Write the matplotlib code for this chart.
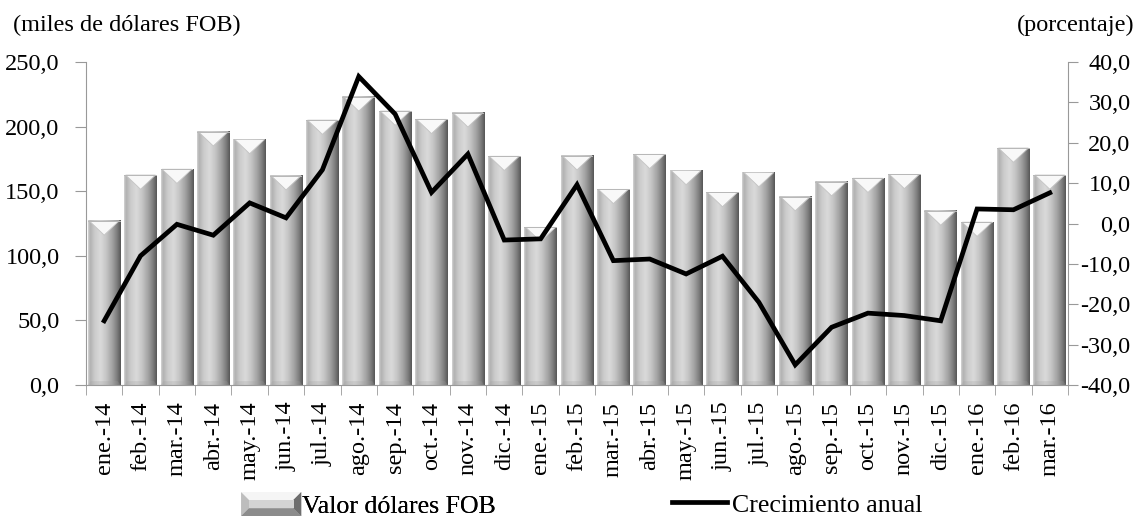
import numpy as np
import matplotlib
matplotlib.use("Agg")
import matplotlib.pyplot as plt
from matplotlib.colors import LinearSegmentedColormap
from matplotlib.patches import Polygon, Patch
from matplotlib.lines import Line2D
from matplotlib.legend_handler import HandlerBase

plt.rcParams['font.family'] = ['Liberation Serif', 'DejaVu Serif']

meses = ['ene.-14', 'feb.-14', 'mar.-14', 'abr.-14', 'may.-14', 'jun.-14', 'jul.-14',
         'ago.-14', 'sep.-14', 'oct.-14', 'nov.-14', 'dic.-14', 'ene.-15', 'feb.-15',
         'mar.-15', 'abr.-15', 'may.-15', 'jun.-15', 'jul.-15', 'ago.-15', 'sep.-15',
         'oct.-15', 'nov.-15', 'dic.-15', 'ene.-16', 'feb.-16', 'mar.-16']
valor_fob = [127, 162.5, 167, 196, 190, 162, 205, 223, 212, 205.6, 210.7, 177,
             122, 177.5, 151.4, 178.5, 166, 149, 164.4, 145.8, 157.4, 160, 163,
             134.7, 126, 183.4, 162.5]
crecimiento = [-24.1, -8.0, -0.2, -2.9, 5.1, 1.4, 13.3, 36.4, 27.1, 7.7, 17.2, -4.1,
               -3.8, 9.6, -9.2, -8.8, -12.5, -8.1, -19.5, -35.0, -25.7, -22.2, -22.8,
               -24.1, 3.6, 3.4, 7.6]
left_ticks = [0, 50, 100, 150, 200, 250]
right_ticks = [-40, -30, -20, -10, 0, 10, 20, 30, 40]

FS = 17.5
FS_LEG = 18.6
W, H = 1139, 516
fig = plt.figure(figsize=(W / 100, H / 100), dpi=100)
ax = fig.add_axes([86 / W, 1 - 385 / H, (1068 - 86) / W, (385 - 62) / H])

x = np.arange(len(meses))
bars = ax.bar(x, valor_fob, width=0.9, color='none', edgecolor='none', zorder=2)

cmap = LinearSegmentedColormap.from_list('bar', [
    (0.0, '#d8d8d8'), (0.06, '#b0b0b0'), (0.2, '#cbcbcb'), (0.38, '#dadada'),
    (0.55, '#c6c6c6'), (0.75, '#a0a0a0'), (0.9, '#787878'), (1.0, '#555555')])
grad = np.linspace(0, 1, 256).reshape(1, -1)
bev = 11.0
for p in bars:
    x0, w, h = p.get_x(), p.get_width(), p.get_height()
    ax.imshow(grad, extent=(x0, x0 + w, 0, h), aspect='auto', cmap=cmap,
              interpolation='bicubic', zorder=2)
    ax.add_patch(Polygon([(x0 + 0.04, h), (x0 + w - 0.04, h), (x0 + w / 2, h - bev)],
                         closed=True, facecolor='#f8f8f8', edgecolor='#c4c4c4',
                         linewidth=0.6, zorder=3))
    ax.add_patch(Polygon([(x0, h), (x0 + w, h), (x0 + w, h - 0.7), (x0, h - 0.7)],
                         closed=True, facecolor='#b8b8b8', edgecolor='none', zorder=3))
    ax.add_patch(Polygon([(x0, 0), (x0 + w, 0), (x0 + w - 0.08, 3.0), (x0 + 0.08, 3.0)],
                         closed=True, facecolor='#a0a0a0', alpha=0.25, edgecolor='none',
                         zorder=3))

ax.set_xlim(-0.5, len(meses) - 0.5)
ax.set_ylim(0, 250)
ax.set_yticks(left_ticks)
ax.set_yticklabels([f"{v:.1f}".replace('.', ',') for v in left_ticks], fontsize=FS)
ax.set_xticks(x)
ax.set_xticklabels(meses, rotation=90, fontsize=FS)
ax.set_xticks(np.arange(-0.5, len(meses), 1), minor=True)
ax.tick_params(axis='x', which='major', length=0, pad=12)
ax.tick_params(axis='x', which='minor', length=7, color='#999999', direction='out')
ax.tick_params(axis='y', length=8, color='#999999', direction='out', pad=11)
for s in ['top', 'right']:
    ax.spines[s].set_visible(False)
for s in ['left', 'bottom']:
    ax.spines[s].set_color('#999999')

ax2 = ax.twinx()
ax2.plot(x, crecimiento, color='black', linewidth=3.4, solid_joinstyle='miter', zorder=5)
ax2.set_ylim(-40, 40)
ax2.set_yticks(right_ticks)
ax2.set_yticklabels([f"{v:.1f}".replace('.', ',') for v in right_ticks], fontsize=FS,
                    ha='right')
ax2.tick_params(axis='y', length=7, color='#999999', direction='out', pad=38)
for s in ['top', 'left', 'bottom']:
    ax2.spines[s].set_visible(False)
ax2.spines['right'].set_color('#999999')
ax2.set_xlim(-0.5, len(meses) - 0.5)

fig.text(13 / W, 1 - 25 / H, '(miles de dólares FOB)', fontsize=FS, va='center', ha='left')
fig.text(1134 / W, 1 - 25 / H, '(porcentaje)', fontsize=FS, va='center', ha='right')


class HandlerBevel(HandlerBase):
    def create_artists(self, legend, orig_handle, xdescent, ydescent, width, height,
                       fontsize, trans):
        x0, y0 = -xdescent, -ydescent
        x1, y1 = x0 + width, y0 + height
        b = height * 0.32
        arts = [
            Polygon([(x0, y0), (x0 + b, y0 + b), (x0 + b, y1 - b), (x0, y1)],
                    facecolor='#bdbdbd'),
            Polygon([(x0, y1), (x0 + b, y1 - b), (x1 - b, y1 - b), (x1, y1)],
                    facecolor='#f5f5f5'),
            Polygon([(x1, y1), (x1 - b, y1 - b), (x1 - b, y0 + b), (x1, y0)],
                    facecolor='#6e6e6e'),
            Polygon([(x0, y0), (x0 + b, y0 + b), (x1 - b, y0 + b), (x1, y0)],
                    facecolor='#8c8c8c'),
            Polygon([(x0 + b, y0 + b), (x0 + b, y1 - b), (x1 - b, y1 - b), (x1 - b, y0 + b)],
                    facecolor='#d4d4d4'),
        ]
        for a in arts:
            a.set_edgecolor('none')
            a.set_transform(trans)
        return arts


h1 = Patch(facecolor='#c8c8c8')
leg1 = fig.legend([h1], ['Valor dólares FOB'], loc='center left',
                  bbox_to_anchor=(218 / W, 1 - 505 / H), frameon=False, fontsize=FS_LEG,
                  handlelength=2.32, handleheight=1.05, handletextpad=0.05,
                  handler_map={Patch: HandlerBevel()})
h2 = Line2D([], [], color='black', linewidth=3.4)
leg2 = fig.legend([h2], ['Crecimiento anual'], loc='center left',
                  bbox_to_anchor=(649 / W, 1 - 505 / H), frameon=False, fontsize=FS_LEG,
                  handlelength=2.13, handletextpad=0.2)
fig.add_artist(leg1)

fig.savefig('out.png', dpi=100)
